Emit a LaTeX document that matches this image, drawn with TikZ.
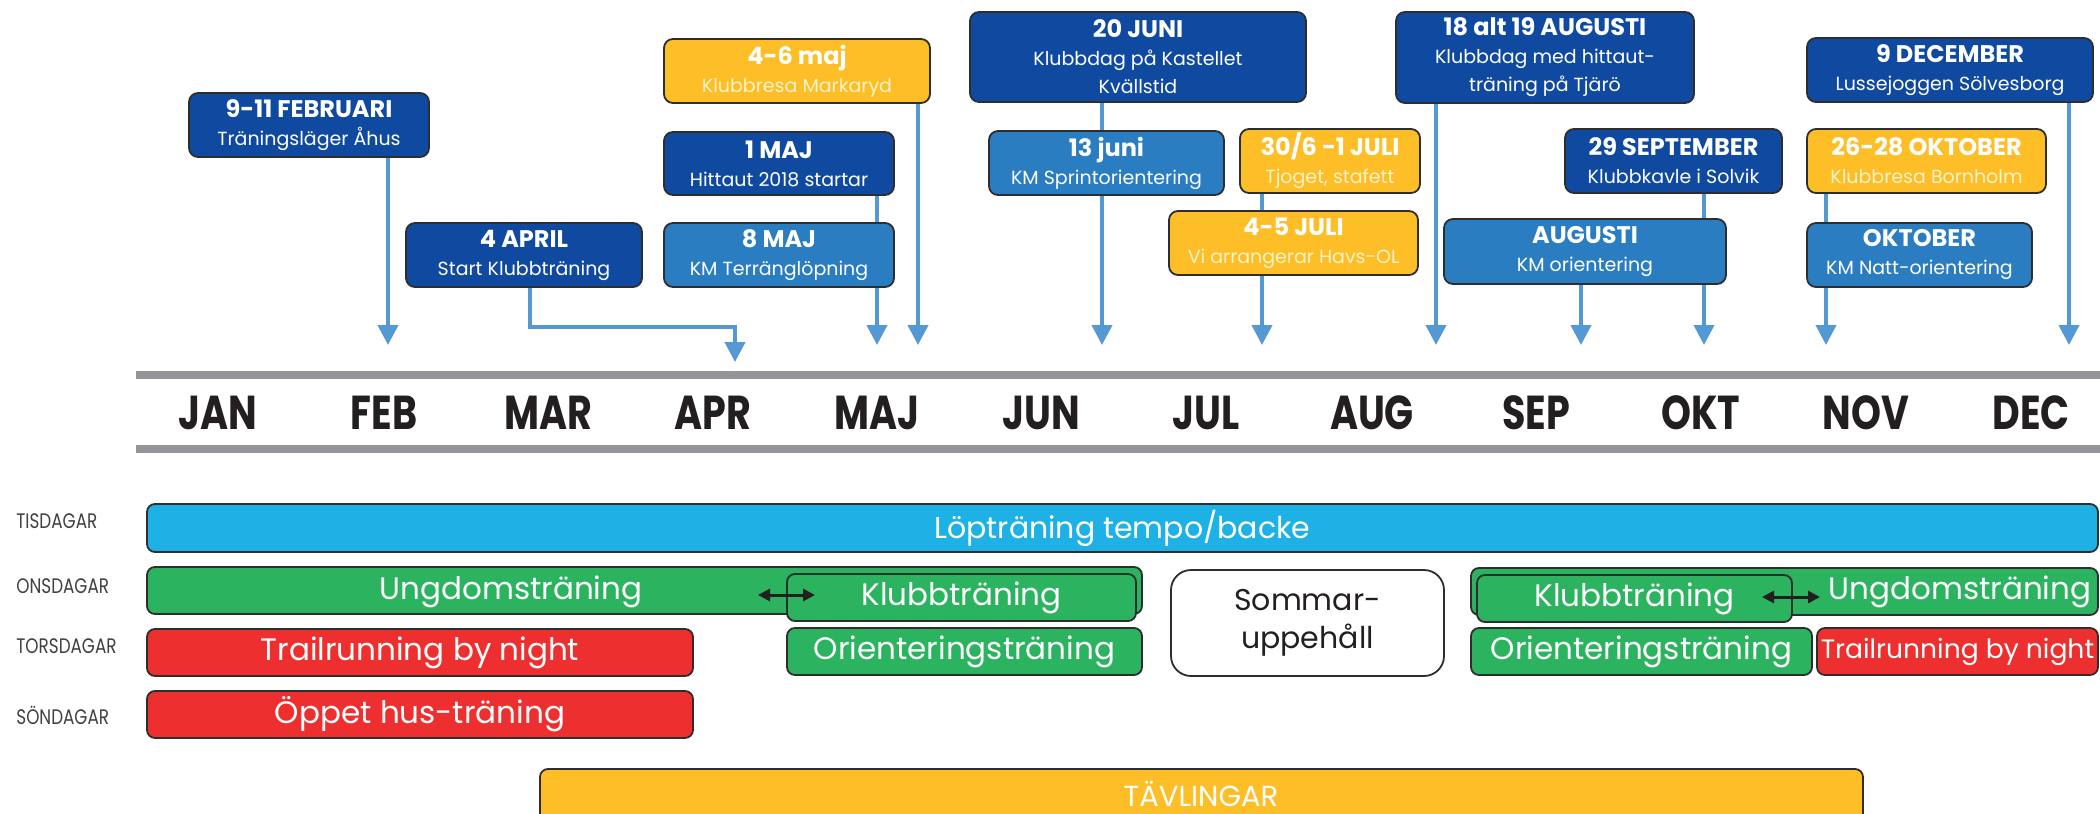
\documentclass[tikz,border=0pt]{standalone}
\usepackage{fontspec}
\setmainfont{Poppins}
\newfontfamily\rowfont[FakeStretch=0.8]{Poppins}
\newfontfamily\monthfont[FakeStretch=0.8]{Poppins}
\usetikzlibrary{arrows.meta}
\pgfdeclarelayer{bg}
\pgfsetlayers{bg,main}
\definecolor{dblue}{HTML}{0F4AA0}
\definecolor{mblue}{HTML}{2A7DC1}
\definecolor{yel}{HTML}{FDBE28}
\definecolor{arrblue}{HTML}{5499D4}
\definecolor{grn}{HTML}{2BB35F}
\definecolor{redbar}{HTML}{EE2F2F}
\definecolor{cyanbar}{HTML}{1DB1E5}
\definecolor{railgray}{HTML}{939598}
\definecolor{ink}{HTML}{231F20}
\definecolor{edgec}{HTML}{2E2E2E}
\definecolor{cream}{HTML}{FFF3C8}
\definecolor{rowlab}{HTML}{414042}
\tikzset{
  evt/.style={draw=edgec, line width=0.9pt, rounded corners=4.5pt, inner sep=0pt, align=center, text=white, font=\fontsize{9.5}{14}\selectfont},
  barbox/.style={draw=edgec, line width=0.9pt, rounded corners=4pt, inner sep=0pt, text=white, font=\fontsize{15.5}{18}\selectfont},
  conn/.style={draw=arrblue, line width=2pt},
  tipend/.style={-{Triangle[width=10pt,length=10pt]}},
  month/.style={font=\monthfont\bfseries\fontsize{23.8}{26}\selectfont, text=ink, anchor=base, inner sep=0pt},
  rowl/.style={font=\rowfont\fontsize{10.5}{12}\selectfont, text=rowlab, anchor=west, inner sep=0pt},
  dblarrow/.style={draw=ink, line width=1.5pt, {Triangle[width=6pt,length=6pt]}-{Triangle[width=6pt,length=6pt]}},
  lbl/.style={text=white, inner sep=0pt, font=\fontsize{15.5}{18}\selectfont},
  railline/.style={draw=railgray, line width=4pt}
}
\newcommand{\ttl}[1]{{\bfseries\fontsize{12}{14}\selectfont #1}}
\newcommand{\csub}[1]{\textcolor{cream}{#1}}
\begin{document}
\begin{tikzpicture}[x=0.5pt,y=-0.5pt]
\useasboundingbox (0,0) rectangle (2100,814);
\clip (0,0) rectangle (2100,814);

% rails and months
\draw[railline] (136,375) -- (2100,375);
\draw[railline] (136,449) -- (2100,449);
\node[month] (mJAN) at (218,429) {JAN};
\node[month] (mFEB) at (384,429) {FEB};
\node[month] (mMAR) at (548,429) {MAR};
\node[month] (mAPR) at (713,429) {APR};
\node[month] (mMAJ) at (877,429) {MAJ};
\node[month] (mJUN) at (1041,429) {JUN};
\node[month] (mJUL) at (1206,429) {JUL};
\node[month] (mAUG) at (1372,429) {AUG};
\node[month] (mSEP) at (1536,429) {SEP};
\node[month] (mOKT) at (1701,429) {OKT};
\node[month] (mNOV) at (1866,429) {NOV};
\node[month] (mDEC) at (2031,429) {DEC};

% events
\node[evt, fill=dblue, minimum width=120pt, minimum height=32pt] (feb) at (309,125) {\ttl{9-11 FEBRUARI}\\Träningsläger Åhus};
\node[evt, fill=dblue, minimum width=118pt, minimum height=32pt] (apr) at (524,255) {\ttl{4 APRIL}\\Start Klubbträning};
\node[evt, fill=yel, minimum width=133pt, minimum height=32pt] (maj46) at (797,71) {\ttl{4-6 maj}\\\csub{Klubbresa Markaryd}};
\node[evt, fill=dblue, minimum width=115pt, minimum height=31.5pt] (maj1) at (779,163.5) {\ttl{1 MAJ}\\Hittaut 2018 startar};
\node[evt, fill=mblue, minimum width=115pt, minimum height=32pt] (maj8) at (779,255) {\ttl{8 MAJ}\\KM Terränglöpning};
\node[evt, fill=dblue, minimum width=168pt, minimum height=45pt] (jun20) at (1138,57) {\ttl{20 JUNI}\\Klubbdag på Kastellet\\Kvällstid};
\node[evt, fill=mblue, minimum width=117.5pt, minimum height=32pt] (jun13) at (1106.5,163) {\ttl{13 juni}\\KM Sprintorientering};
\node[evt, fill=yel, minimum width=90pt, minimum height=32pt] (jul30) at (1330,161) {\ttl{30/6 -1 JULI}\\\csub{Tjoget, stafett}};
\node[evt, fill=yel, minimum width=124.5pt, minimum height=32pt] (jul45) at (1293.5,243) {\ttl{4-5 JULI}\\\csub{Vi arrangerar Havs-OL}};
\node[evt, fill=dblue, minimum width=149pt, minimum height=45.5pt] (aug18) at (1545,57.5) {\ttl{18 alt 19 AUGUSTI}\\Klubbdag med hittaut-\\träning på Tjärö};
\node[evt, fill=dblue, minimum width=108.5pt, minimum height=32pt] (sep29) at (1673.5,161) {\ttl{29 SEPTEMBER}\\Klubbkavle i Solvik};
\node[evt, fill=mblue, minimum width=141pt, minimum height=32.5pt] (augkm) at (1585,251.5) {\ttl{AUGUSTI}\\KM orientering};
\node[evt, fill=dblue, minimum width=143pt, minimum height=32pt] (dec9) at (1950,70) {\ttl{9 DECEMBER}\\Lussejoggen Sölvesborg};
\node[evt, fill=yel, minimum width=119.5pt, minimum height=32pt] (okt26) at (1926.5,161) {\ttl{26-28 OKTOBER}\\\csub{Klubbresa Bornholm}};
\node[evt, fill=mblue, minimum width=112.5pt, minimum height=32pt] (oktkm) at (1919.5,255) {\ttl{OKTOBER}\\KM Natt-orientering};

% connector end points
\coordinate (tFEB) at (388,345);
\coordinate (kAPR) at (530,327);
\coordinate (tAPR) at (735,362);
\coordinate (tMAJa) at (877,345);
\coordinate (tMAJb) at (918,345);
\coordinate (tJUN) at (1102,345);
\coordinate (tJUL) at (1262,345);
\coordinate (tAUGa) at (1436,345);
\coordinate (tAUGb) at (1581,345);
\coordinate (tSEP) at (1704,345);
\coordinate (tOKT) at (1826,345);
\coordinate (tDEC) at (2069,345);

\begin{pgfonlayer}{bg}
\fill[white] (0,0) rectangle (2100,814);
\draw[conn,tipend] (feb.south -| tFEB) -- (tFEB);
\draw[conn,tipend] (apr.south -| kAPR) -- (kAPR) -| (tAPR);
\draw[conn,tipend] (maj1.south -| tMAJa) -- (tMAJa);
\draw[conn,tipend] (maj46.south -| tMAJb) -- (tMAJb);
\draw[conn,tipend] (jun20.south -| tJUN) -- (tJUN);
\draw[conn,tipend] (jul30.south -| tJUL) -- (tJUL);
\draw[conn,tipend] (aug18.south -| tAUGa) -- (tAUGa);
\draw[conn,tipend] (augkm.south -| tAUGb) -- (tAUGb);
\draw[conn,tipend] (sep29.south -| tSEP) -- (tSEP);
\draw[conn,tipend] (okt26.south -| tOKT) -- (tOKT);
\draw[conn,tipend] (dec9.south -| tDEC) -- (tDEC);
\end{pgfonlayer}

% row labels
\node[rowl] (rTIS) at (16,521) {TISDAGAR};
\node[rowl] (rONS) at (16,586) {ONSDAGAR};
\node[rowl] (rTOR) at (16,646) {TORSDAGAR};
\node[rowl] (rSON) at (16,715) {SÖNDAGAR};

% bars
\node[barbox, fill=cyanbar, minimum width=975.5pt, minimum height=24pt, font=\fontsize{15}{18}\selectfont] (lop) at (1122.5,528) {Löpträning tempo/backe};

\node[barbox, fill=grn, minimum width=497.5pt, minimum height=23.5pt] (ung1) at (644.5,590.5) {};
\node[lbl] (ung1t) at (511,592) {Ungdomsträning};
\node[barbox, fill=grn, minimum width=174.5pt, minimum height=23.5pt] (klub1) at (961.5,597.5) {Klubbträning};
\coordinate (d1a) at (758,595);
\coordinate (d1b) at (815,595);
\draw[dblarrow] (d1a) -- (d1b);
\node[barbox, fill=grn, minimum width=177.5pt, minimum height=23.5pt] (ori1) at (964.5,651.5) {Orienteringsträning};
\node[barbox, fill=redbar, minimum width=273pt, minimum height=23.5pt] (trail1) at (420,652.5) {Trailrunning by night};
\node[barbox, fill=redbar, minimum width=273pt, minimum height=23.5pt] (oppet) at (420,714.5) {Öppet hus-träning};

\node[draw=edgec, line width=0.9pt, rounded corners=10pt, fill=white, text=ink, align=center, inner sep=0pt, font=\fontsize{15}{19}\selectfont, minimum width=136.5pt, minimum height=53pt] (sommar) at (1307.5,623) {Sommar-\\uppehåll};

\node[barbox, fill=grn, minimum width=313.5pt, minimum height=23.5pt] (ung2) at (1784.5,591.5) {};
\node[lbl] (ung2t) at (1960,592) {Ungdomsträning};
\node[barbox, fill=grn, minimum width=157.5pt, minimum height=23.5pt] (klub2) at (1634.5,598.5) {Klubbträning};
\coordinate (d2a) at (1762,597);
\coordinate (d2b) at (1820,597);
\draw[dblarrow] (d2a) -- (d2b);
\node[barbox, fill=grn, minimum width=170.5pt, minimum height=23.5pt] (ori2) at (1641.5,651.5) {Orienteringsträning};
\node[barbox, fill=redbar, minimum width=140.5pt, minimum height=23.5pt, font=\fontsize{13.3}{16}\selectfont] (trail2) at (1957.5,651.5) {Trailrunning by night};

\node[barbox, fill=yel, minimum width=661.5pt, minimum height=30.5pt] (tav) at (1201.5,799.5) {};
\node[lbl, anchor=base, font=\fontsize{14.5}{17}\selectfont] (tavt) at (1201,806) {TÄVLINGAR};
\end{tikzpicture}
\end{document}
